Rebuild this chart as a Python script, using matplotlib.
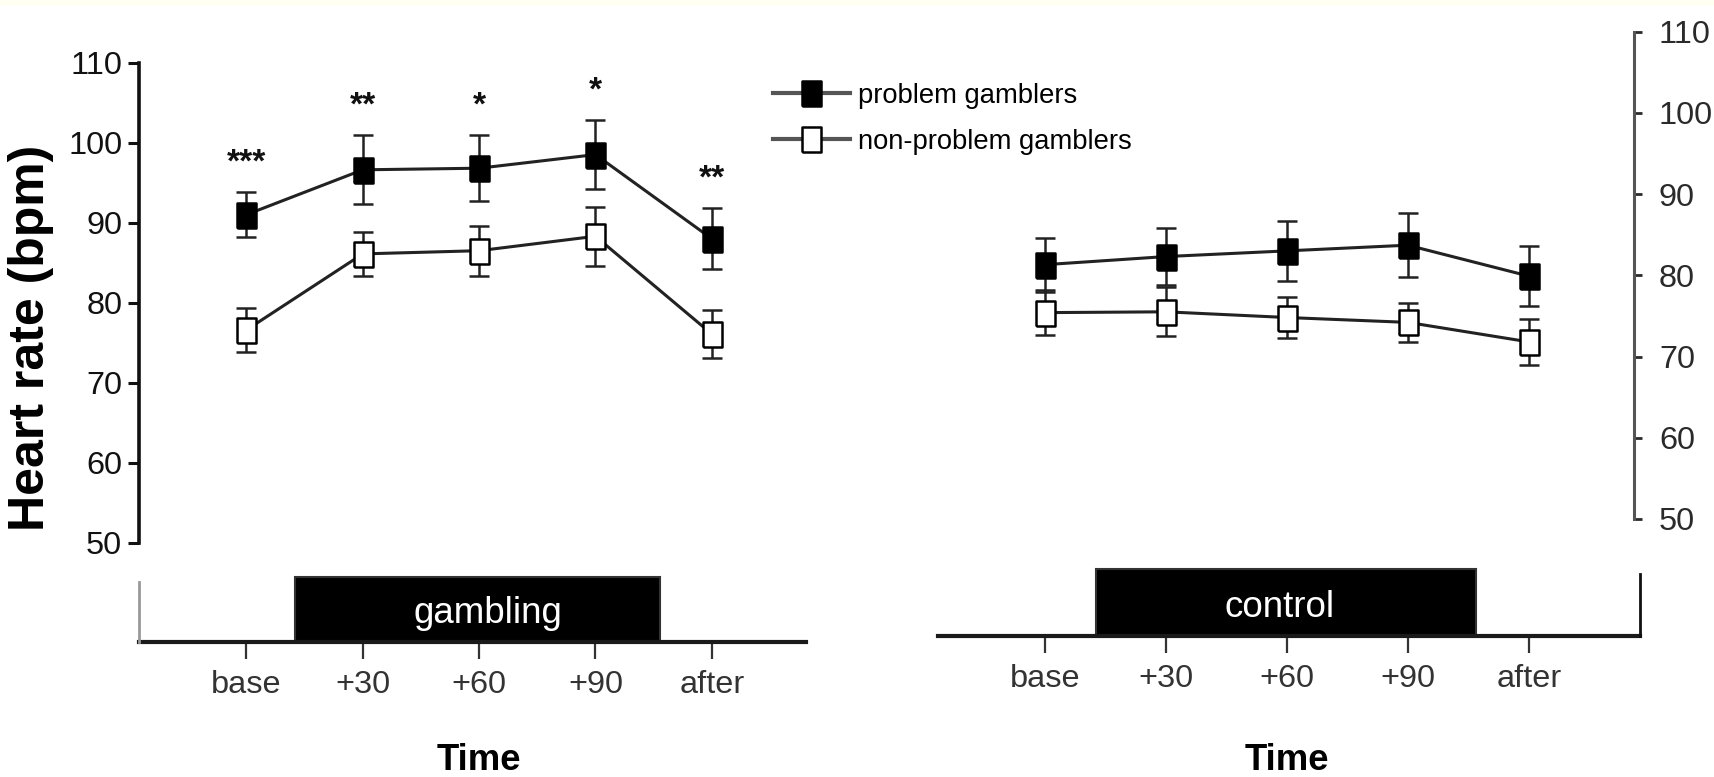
import matplotlib
matplotlib.use('Agg')
import matplotlib.pyplot as plt
from matplotlib import font_manager
from matplotlib.lines import Line2D
from matplotlib.patches import Rectangle

# condensed look of the original figure, when the narrow face exists
try:
    font_manager.findfont('Liberation Sans Narrow', fallback_to_default=False)
    NARROW = 'Liberation Sans Narrow'
    K = 1.0
except ValueError:
    NARROW = 'Liberation Sans'
    K = 0.82
plt.rcParams['font.family'] = [NARROW, 'DejaVu Sans']

# Data (heart rate, bpm, mean +/- SEM)
time_labels = ['base', '+30', '+60', '+90', 'after']
series_names = ['problem gamblers', 'non-problem gamblers']

gamb_pg = [91.0, 96.6, 96.8, 98.5, 88.0]
gamb_pg_err = [2.8, 4.3, 4.1, 4.3, 3.8]
gamb_npg = [76.6, 86.1, 86.5, 88.3, 76.1]
gamb_npg_err = [2.8, 2.7, 3.1, 3.7, 3.0]
gamb_sig = ['***', '**', '*', '*', '**']

ctrl_pg = [81.3, 82.3, 83.0, 83.7, 79.9]
ctrl_pg_err = [3.3, 3.5, 3.7, 3.9, 3.7]
ctrl_npg = [75.4, 75.5, 74.8, 74.2, 71.8]
ctrl_npg_err = [2.8, 3.0, 2.5, 2.4, 2.8]

yticks = [50, 60, 70, 80, 90, 100, 110]

W, H = 1715, 777
fig = plt.figure(figsize=(W / 100, H / 100), dpi=100)
fig.patches.append(Rectangle((0, 1 - 6 / H), 1, 6 / H, transform=fig.transFigure,
                             facecolor='#fffff2', edgecolor='none'))

TICK_FS = 28.5 * K
LEG_FS = 24 * K
BOX_FS = 32.3 * K
TIME_FS = 32 * K


def px_axes(x0, x1, ytop, ybot):
    return fig.add_axes([x0 / W, 1 - ybot / H, (x1 - x0) / W, (ybot - ytop) / H])


# rectangular marker, a bit taller than wide
RECT = [(-0.76, -1), (0.76, -1), (0.76, 1), (-0.76, 1), (-0.76, -1)]
LINE_C = '#222222'


def draw_series(ax, x, y, err, filled):
    ax.errorbar(x, y, yerr=err, fmt='-', color=LINE_C, lw=2.2, marker=RECT, ms=18,
                mfc='black' if filled else 'white', mec='black', mew=1.8,
                ecolor=LINE_C, elinewidth=1.8, capsize=7, capthick=2.2, zorder=3,
                clip_on=False)


xs = list(range(len(time_labels)))

# ---- left panel: gambling
ax1 = px_axes(138.8, 806, 62.5, 543)
ax1.set_xlim(-0.925, 4.81)
ax1.set_ylim(50, 110)
draw_series(ax1, xs, gamb_npg, gamb_npg_err, False)
draw_series(ax1, xs, gamb_pg, gamb_pg_err, True)
for x, m, e, s in zip(xs, gamb_pg, gamb_pg_err, gamb_sig):
    ax1.text(x, m + e + 3.6, s, ha='center', va='center', fontsize=24,
             fontweight='bold', family='Liberation Sans', color='#111111')
for sp in ['top', 'right', 'bottom']:
    ax1.spines[sp].set_visible(False)
ax1.spines['left'].set_linewidth(2.6)
ax1.spines['left'].set_color('#111111')
ax1.set_xticks([])
ax1.set_yticks(yticks)
ax1.tick_params(axis='y', direction='out', length=8, width=2.2, pad=4,
                labelsize=TICK_FS, colors='#111111')

# ---- right panel: control
ax2 = px_axes(938, 1634, 31.5, 519)
ax2.set_xlim(-0.883, 4.87)
ax2.set_ylim(50, 110)
draw_series(ax2, xs, ctrl_npg, ctrl_npg_err, False)
draw_series(ax2, xs, ctrl_pg, ctrl_pg_err, True)
for sp in ['top', 'left', 'bottom']:
    ax2.spines[sp].set_visible(False)
ax2.spines['right'].set_linewidth(2.2)
ax2.spines['right'].set_color('#555555')
ax2.set_xticks([])
ax2.yaxis.tick_right()
ax2.set_yticks(yticks)
ax2.tick_params(axis='y', direction='out', length=6, width=2.0, pad=12,
                labelsize=TICK_FS, colors='#2a2a2a')


# ---- time axes with condition boxes
def time_axis(x0, x1, ytop, ybot, xlim, box, label, label_x, side):
    ax = px_axes(x0, x1, ytop, ybot)
    ax.set_xlim(*xlim)
    ax.set_ylim(0, 1)
    ax.patch.set_alpha(0)
    ax.add_patch(Rectangle((box[0], 0), box[1] - box[0], 1, facecolor='black',
                           edgecolor='#333333', lw=1.5, clip_on=False, zorder=1))
    ax.text(label_x, 0.29, label, ha='center', va='baseline', color='white',
            fontsize=BOX_FS)
    for sp in ['top', 'left', 'right']:
        ax.spines[sp].set_visible(False)
    ax.spines['bottom'].set_linewidth(3.0)
    ax.spines['bottom'].set_color('#1a1a1a')
    ax.spines['bottom'].set_zorder(2)
    ax.spines[side].set_visible(True)
    ax.spines[side].set_bounds(0, 0.92)
    ax.spines[side].set_linewidth(2.0)
    ax.spines[side].set_color('#999999' if side == 'left' else '#111111')
    ax.set_yticks([])
    ax.set_xticks(xs)
    ax.set_xticklabels(time_labels)
    ax.tick_params(axis='x', direction='out', length=12, width=1.6, pad=8,
                   labelsize=TICK_FS, colors='#333333')
    ax.annotate('Time', xy=(2, 0.009), xycoords=('data', 'figure fraction'),
                ha='center', va='baseline', fontsize=TIME_FS, fontweight='bold',
                annotation_clip=False)
    return ax


time_axis(138.8, 806, 577, 642, (-0.925, 4.81), (0.418, 3.556), 'gambling', 2.08, 'left')
time_axis(938, 1640, 569, 636, (-0.883, 4.919), (0.424, 3.564), 'control', 1.94, 'right')

# ---- y label
fig.text(31 / W, 1 - 338 / H, 'Heart rate (bpm)', rotation=90, ha='center', va='center',
         fontsize=36, fontweight='bold', family='Liberation Sans')

# ---- legend
leg_px = LEG_FS * 100 / 72
handles = [Line2D([], [], color='#555555', lw=3, marker=RECT, ms=18, mfc=fc,
                  mec='black', mew=1.8) for fc in ['black', 'white']]
fig.legend(handles, series_names, loc='upper left', bbox_to_anchor=(773 / W, 1 - 83 / H),
           frameon=False, fontsize=LEG_FS, borderpad=0, borderaxespad=0,
           handlelength=77 / leg_px, handletextpad=8 / leg_px,
           labelspacing=(51 - 1.15 * leg_px) / leg_px)

plt.savefig('out.png', dpi=100)
